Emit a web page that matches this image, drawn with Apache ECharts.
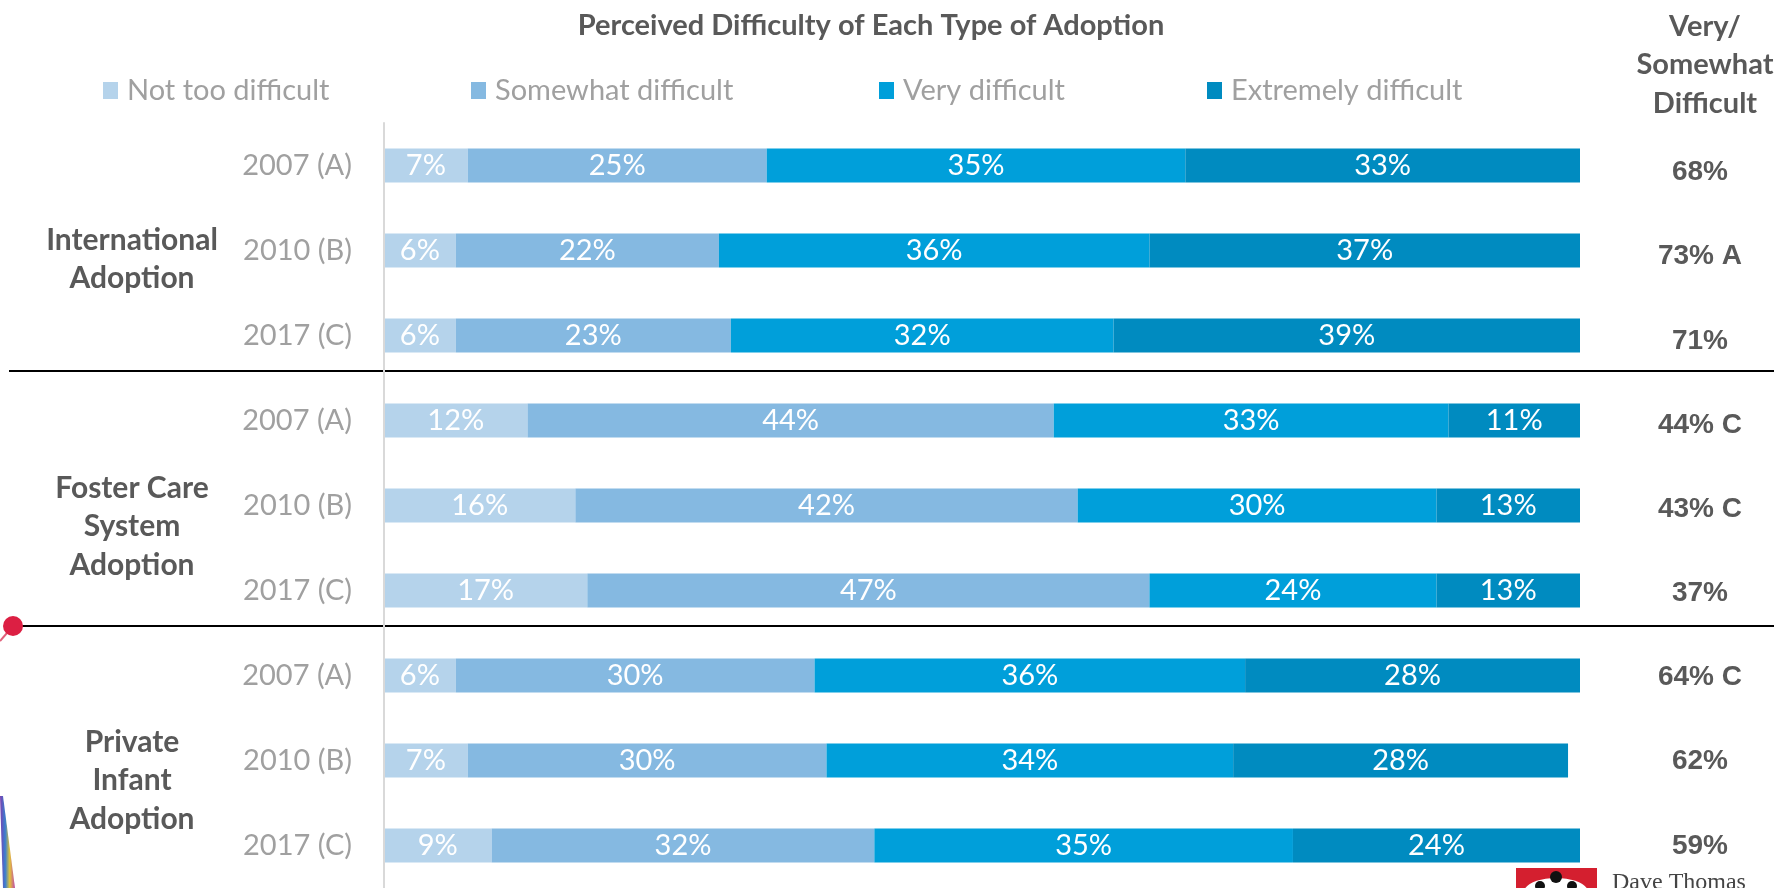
<!DOCTYPE html>
<html>
<head>
<meta charset="utf-8">
<script src="https://cdn.jsdelivr.net/npm/echarts@6/dist/echarts.min.js"></script>
<style>
  html, body { margin: 0; padding: 0; background: #ffffff; }
  #chart { width: 1774px; height: 888px; }
</style>
</head>
<body>
<div id="chart"></div>
<script>
// Survey rows, top to bottom (three survey waves per adoption type)
const rowLabels = ['2007 (A)', '2010 (B)', '2017 (C)',
                   '2007 (A)', '2010 (B)', '2017 (C)',
                   '2007 (A)', '2010 (B)', '2017 (C)'];
const groupLabels = ['International\nAdoption', 'Foster Care\nSystem\nAdoption', 'Private\nInfant\nAdoption'];
const seriesNames = ['Not too difficult', 'Somewhat difficult', 'Very difficult', 'Extremely difficult'];

// Percent of respondents per difficulty level
const notTooDifficult    = [7, 6, 6, 12, 16, 17, 6, 7, 9];
const somewhatDifficult  = [25, 22, 23, 44, 42, 47, 30, 30, 32];
const veryDifficult      = [35, 36, 32, 33, 30, 24, 36, 34, 35];
const extremelyDifficult = [33, 37, 39, 11, 13, 13, 28, 28, 24];

// Significance letters next to the "Very/Somewhat Difficult" totals
const sigLetters = ['', 'A', '', 'C', 'C', '', 'C', '', ''];

const colors = ['#B5D3EB', '#85B9E1', '#009FDA', '#008BC0'];
const FONT = 'Lato, "Open Sans", sans-serif';

const seriesValues = [notTooDifficult, somewhatDifficult, veryDifficult, extremelyDifficult];
const totals = veryDifficult.map((v, i) => {
  const t = v + extremelyDifficult[i];
  return t + '%' + (sigLetters[i] ? ' ' + sigLetters[i] : '');
});

const legendLeft = [103, 471, 879, 1207];

const chart = echarts.init(document.getElementById('chart'), null, { renderer: 'canvas' });

const option = {
  animation: false,
  backgroundColor: '#ffffff',
  color: colors,
  title: [
    {
      text: 'Perceived Difficulty of Each Type of Adoption',
      left: 866, top: 6, textAlign: 'center',
      textStyle: { fontFamily: FONT, fontWeight: 'bold', fontSize: 29, color: '#595959' }
    },
    {
      text: 'Very/\nSomewhat\nDifficult',
      left: 1700, top: 2, textAlign: 'center',
      textStyle: { fontFamily: FONT, fontWeight: 'bold', fontSize: 29, color: '#595959', lineHeight: 38.5 }
    }
  ],
  legend: seriesNames.map((n, i) => ({
    data: [n],
    left: legendLeft[i],
    top: 76,
    padding: 0,
    icon: 'rect',
    itemWidth: 15,
    itemHeight: 17,
    selectedMode: false,
    textStyle: { fontFamily: FONT, fontSize: 29, color: '#a0a0a0', padding: [0, 0, 0, 4] }
  })),
  grid: [
    // stacked bars
    { left: 384, top: 123, width: 1196, height: 769, containLabel: false },
    // "Very/Somewhat Difficult" column, spaced slightly tighter than the bars
    { left: 1580, top: 130.5, width: 1, height: 762, containLabel: false }
  ],
  xAxis: [
    { type: 'value', gridIndex: 0, min: 0, max: 100, show: false },
    { type: 'value', gridIndex: 1, min: 0, max: 1, show: false }
  ],
  yAxis: [
    {
      type: 'category',
      gridIndex: 0,
      inverse: true,
      data: rowLabels,
      offset: 1,
      axisLine: { show: true, lineStyle: { color: '#d9d9d9', width: 2 } },
      axisTick: { show: false },
      axisLabel: { margin: 31, fontFamily: FONT, fontSize: 29, color: '#a0a0a0' },
      z: 5
    },
    {
      type: 'category',
      gridIndex: 1,
      inverse: true,
      position: 'right',
      data: totals,
      axisLine: { show: false },
      axisTick: { show: false },
      splitLine: { show: false },
      axisLabel: {
        margin: 119, align: 'center',
        fontFamily: '"Liberation Sans", Arial, sans-serif', fontWeight: 'bold',
        fontSize: 28, color: '#595959'
      }
    }
  ],
  series: seriesNames.map((n, i) => ({
    name: n,
    type: 'bar',
    stack: 'total',
    barWidth: 34,
    xAxisIndex: 0,
    yAxisIndex: 0,
    data: seriesValues[i],
    itemStyle: { color: colors[i] },
    label: {
      show: true,
      position: 'inside',
      formatter: p => p.value + '%',
      color: '#ffffff',
      fontFamily: FONT,
      fontSize: 29
    },
    emphasis: { disabled: true }
  }))
};

chart.setOption(option);

// Group labels, separators and slide decorations, placed from the axis scale
const yPix = i => chart.convertToPixel({ yAxisIndex: 0 }, i);
const sep1 = Math.round((yPix(2) + yPix(3)) / 2 - 7);
const sep2 = Math.round((yPix(5) + yPix(6)) / 2 - 7);
const groupY = [yPix(1) + 9, yPix(4) + 21, yPix(7) + 20];

const graphics = [];
[sep1, sep2].forEach(y => {
  graphics.push({
    type: 'line', z: -10, silent: true,
    shape: { x1: 9, y1: y, x2: 1774, y2: y },
    style: { stroke: '#000000', lineWidth: 2 }
  });
});
groupLabels.forEach((g, i) => {
  graphics.push({
    type: 'text', silent: true,
    x: 132, y: groupY[i],
    style: {
      text: g, fill: '#595959',
      font: 'bold 30px ' + FONT,
      align: 'center', verticalAlign: 'middle', lineHeight: 38.5
    }
  });
});

// pin at the left end of the lower separator
graphics.push({
  type: 'line', silent: true, z: 1,
  shape: { x1: 13, y1: sep2, x2: 0, y2: sep2 + 15 },
  style: { stroke: '#e0607a', lineWidth: 2 }
});
graphics.push({
  type: 'circle', silent: true, z: 2,
  shape: { cx: 13, cy: sep2, r: 10 },
  style: { fill: '#dc1f43' }
});

// coloured ribbon in the lower-left corner
graphics.push({
  type: 'polygon', silent: true,
  shape: { points: [[0, 796], [3, 796], [15, 888], [3, 888]] },
  style: {
    fill: new echarts.graphic.LinearGradient(0, 0, 1, 0, [
      { offset: 0, color: '#7a3fb0' },
      { offset: 0.35, color: '#3a7fd0' },
      { offset: 0.65, color: '#e2c23a' },
      { offset: 1, color: '#c04aa8' }
    ])
  }
});

// logo in the lower-right corner
graphics.push({
  type: 'rect', silent: true,
  shape: { x: 1516, y: 868, width: 81, height: 22 },
  style: { fill: '#d41f2f' }
});
graphics.push({
  type: 'ellipse', silent: true,
  shape: { cx: 1556, cy: 892, rx: 32, ry: 14 },
  style: { fill: '#ffffff' }
});
graphics.push({
  type: 'circle', silent: true,
  shape: { cx: 1556, cy: 877, r: 6 },
  style: { fill: '#111111' }
});
graphics.push({
  type: 'circle', silent: true,
  shape: { cx: 1540, cy: 886, r: 5 },
  style: { fill: '#111111' }
});
graphics.push({
  type: 'circle', silent: true,
  shape: { cx: 1572, cy: 886, r: 5 },
  style: { fill: '#111111' }
});
graphics.push({
  type: 'text', silent: true,
  x: 1612, y: 871,
  style: {
    text: 'Dave Thomas', fill: '#444444',
    font: '24px "Liberation Serif", "DejaVu Serif", serif',
    align: 'left', verticalAlign: 'top'
  }
});

chart.setOption({ graphic: graphics });
</script>
</body>
</html>
